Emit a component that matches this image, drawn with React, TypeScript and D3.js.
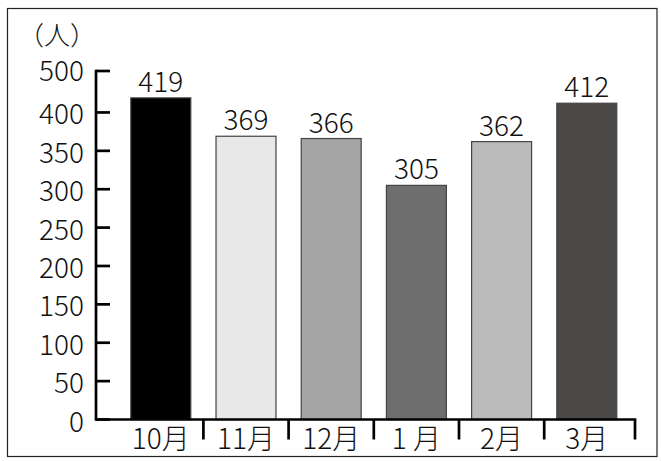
import * as d3 from 'd3'

const months = ['10月', '11月', '12月', '1 月', '2月', '3月']
const visitors = [419, 369, 366, 305, 362, 412]
const barColors = ['#000000', '#e8e8e8', '#a5a5a5', '#6f6e6e', '#bbbbbb', '#4a4948']
// the axis is broken at the top: the last tick sits just above 400 but reads 500
const yTickValues = [0, 50, 100, 150, 200, 250, 300, 350, 400, 454]
const yTickLabels = ['0', '50', '100', '150', '200', '250', '300', '350', '400', '500']
const unitLabel = '（人）'

const W = 661
const H = 461
const FONT = '"Noto Sans CJK JP", "Noto Sans", sans-serif'

export default function App() {
  const axisX = 96
  const axisRight = 635

  const y = d3.scaleLinear().domain([0, 454]).range([419.5, 71])
  const x = d3
    .scaleBand<string>()
    .domain(months)
    .range([118.2, 629.4])
    .paddingInner(0.296)
    .paddingOuter(0.148)

  const bw = x.bandwidth()
  const gap = x.step() - bw
  const y0 = y(0)

  // x tick marks sit between bars, the last one closes the axis
  const xTicks = months.slice(0, -1).map((m) => (x(m) as number) + bw + gap / 2)
  xTicks.push(axisRight)

  return (
    <svg
      width={W}
      height={H}
      style={{ position: 'absolute', left: 0, top: 0, background: '#fff' }}
      fontFamily={FONT}
      fontWeight={300}
    >
      <rect x={7.5} y={8.5} width={649.5} height={448} fill="#fff" stroke="#222" strokeWidth={1.2} />

      <text x={57} y={33} fontSize={26} textAnchor="middle" dominantBaseline="central" fill="#111">
        {unitLabel}
      </text>

      {/* bars */}
      {months.map((m, i) => (
        <rect
          key={m}
          x={x(m)}
          y={y(visitors[i])}
          width={bw}
          height={y0 - y(visitors[i])}
          fill={barColors[i]}
          stroke="#444"
          strokeWidth={1.2}
        />
      ))}

      {/* value labels */}
      {months.map((m, i) => (
        <text
          key={m}
          x={(x(m) as number) + bw / 2}
          y={y(visitors[i]) - 6}
          fontSize={28}
          textAnchor="middle"
          fill="#111"
        >
          {visitors[i]}
        </text>
      ))}

      {/* y axis */}
      <line x1={axisX} x2={axisX} y1={y(454) - 1.3} y2={y0 + 1.3} stroke="#000" strokeWidth={2.7} />
      {yTickValues.map((v, i) => (
        <g key={v}>
          <line x1={axisX} x2={axisX + 14} y1={y(v)} y2={y(v)} stroke="#000" strokeWidth={2.7} />
          <text
            x={84}
            y={i === yTickValues.length - 1 ? y(v) - 2 : y(v)}
            fontSize={28}
            textAnchor="end"
            dominantBaseline="central"
            fill="#111"
          >
            {yTickLabels[i]}
          </text>
        </g>
      ))}

      {/* x axis */}
      <line x1={axisX} x2={axisRight + 1.3} y1={y0} y2={y0} stroke="#000" strokeWidth={2.7} />
      {xTicks.map((t) => (
        <line key={t} x1={t} x2={t} y1={y0} y2={y0 + 20} stroke="#000" strokeWidth={2.7} />
      ))}
      {months.map((m) => (
        <text
          key={m}
          x={(x(m) as number) + bw / 2}
          y={437}
          fontSize={28}
          textAnchor="middle"
          dominantBaseline="central"
          fill="#111"
          style={{ whiteSpace: 'pre' }}
        >
          {m}
        </text>
      ))}
    </svg>
  )
}
